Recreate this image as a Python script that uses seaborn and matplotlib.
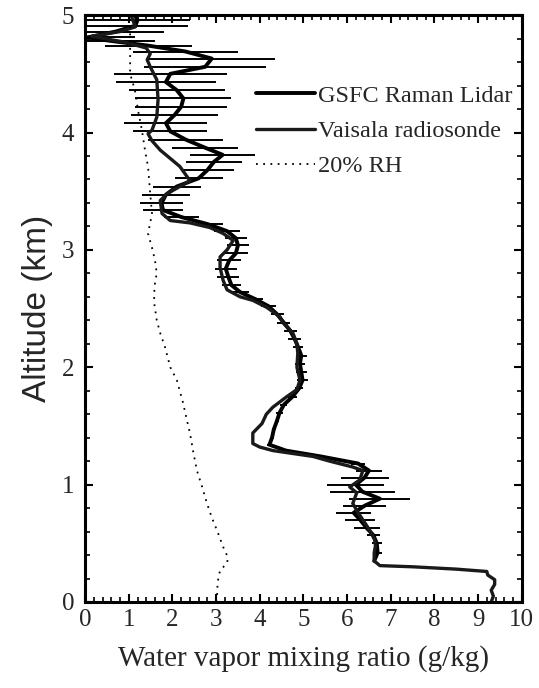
import numpy as np
import pandas as pd
import matplotlib
matplotlib.use('Agg')
import matplotlib.pyplot as plt
import seaborn as sns

sns.set_theme(style='ticks')
plt.rcParams['font.family'] = ['Liberation Serif', 'DejaVu Serif']

# GSFC Raman Lidar profile: altitude (km), mixing ratio (g/kg), error (g/kg)
lidar_alt = [0.35, 0.42, 0.50, 0.57, 0.63, 0.70, 0.76, 0.82, 0.88, 0.94, 1.00, 1.06, 1.12, 1.18,
             1.24, 1.29, 1.34, 1.40, 1.47, 1.54, 1.61, 1.68, 1.75, 1.82, 1.89, 1.96, 2.03, 2.10,
             2.17, 2.24, 2.31, 2.38, 2.45, 2.52, 2.58, 2.64, 2.70, 2.77, 2.84, 2.91, 2.97, 3.04,
             3.10, 3.16, 3.22, 3.28, 3.34, 3.40, 3.47, 3.54, 3.61, 3.68, 3.75, 3.81, 3.87, 3.94,
             4.01, 4.08, 4.15, 4.22, 4.29, 4.36, 4.43, 4.50, 4.56, 4.63, 4.69, 4.74, 4.78, 4.81,
             4.86, 4.91, 4.96, 5.02]
lidar_wv = [6.62, 6.70, 6.68, 6.60, 6.45, 6.30, 6.15, 6.40, 6.75, 6.35, 6.20, 6.40, 6.50, 6.25,
            5.40, 4.60, 4.22, 4.28, 4.32, 4.39, 4.45, 4.55, 4.75, 4.90, 4.98, 4.95, 4.92, 4.95,
            4.88, 4.80, 4.70, 4.55, 4.40, 4.20, 3.90, 3.55, 3.35, 3.28, 3.22, 3.30, 3.45, 3.50,
            3.45, 3.25, 2.80, 2.20, 1.78, 1.75, 1.85, 2.10, 2.60, 2.80, 2.95, 3.15, 2.75, 2.30,
            1.95, 1.85, 2.05, 2.20, 2.25, 2.10, 1.85, 1.95, 2.75, 2.90, 2.30, 1.45, 0.60, 0.05,
            0.70, 1.15, 1.20, 1.10]
lidar_err = [0.00, 0.10, 0.12, 0.15, 0.30, 0.35, 0.40, 0.50, 0.70, 0.75, 0.65, 0.55, 0.30, 0.15,
             0.05, 0.05, 0.05, 0.05, 0.05, 0.05, 0.08, 0.08, 0.10, 0.10, 0.12, 0.12, 0.12, 0.12,
             0.12, 0.15, 0.15, 0.15, 0.15, 0.18, 0.18, 0.20, 0.22, 0.25, 0.25, 0.28, 0.28, 0.25,
             0.25, 0.30, 0.35, 0.40, 0.45, 0.50, 0.55, 0.55, 0.55, 0.60, 0.65, 0.75, 0.75, 0.85,
             0.85, 0.95, 1.00, 1.05, 1.10, 1.10, 1.15, 1.30, 1.40, 1.45, 1.20, 1.00, 1.00, 1.10,
             1.10, 1.20, 1.20, 1.20]

# Vaisala radiosonde profile
sonde_alt = [0.00, 0.05, 0.10, 0.15, 0.19, 0.23, 0.26, 0.28, 0.30, 0.31, 0.35, 0.42, 0.48, 0.53,
             0.61, 0.70, 0.78, 0.84, 0.93, 0.98, 1.04, 1.12, 1.15, 1.20, 1.24, 1.29, 1.32, 1.35,
             1.44, 1.52, 1.60, 1.66, 1.75, 1.81, 1.89, 2.00, 2.12, 2.20, 2.29, 2.38, 2.43, 2.51,
             2.57, 2.60, 2.66, 2.74, 2.85, 2.94, 3.00, 3.08, 3.14, 3.19, 3.23, 3.25, 3.31, 3.42,
             3.48, 3.54, 3.59, 3.71, 3.76, 3.85, 3.93, 3.99, 4.02, 4.13, 4.28, 4.45, 4.56, 4.62,
             4.67, 4.72, 4.77, 4.82, 4.86, 4.90, 4.95, 5.00]
sonde_wv = [9.30, 9.35, 9.30, 9.38, 9.38, 9.22, 9.20, 8.50, 7.50, 6.75, 6.62, 6.62, 6.65, 6.63,
            6.52, 6.36, 6.22, 6.13, 6.22, 6.06, 6.29, 6.36, 6.13, 5.60, 5.22, 4.30, 4.00, 3.84,
            3.84, 4.05, 4.15, 4.30, 4.62, 4.85, 4.92, 4.85, 4.87, 4.85, 4.76, 4.53, 4.46, 4.16,
            3.84, 3.55, 3.25, 3.16, 3.09, 3.09, 3.25, 3.39, 3.16, 2.86, 2.40, 1.95, 1.76, 1.72,
            1.88, 2.17, 2.40, 2.17, 2.01, 1.72, 1.53, 1.44, 1.53, 1.64, 1.67, 1.64, 1.49, 1.42,
            1.49, 1.40, 0.90, 0.15, 0.80, 1.15, 1.10, 1.05]

# 20% relative humidity reference
rh_alt = [0.00, 0.09, 0.16, 0.27, 0.33, 0.38, 0.47, 0.61, 0.72, 0.84, 0.98, 1.12, 1.29, 1.44,
          1.55, 1.70, 1.89, 2.00, 2.17, 2.29, 2.40, 2.55, 2.63, 2.72, 2.80, 2.91, 3.02, 3.14,
          3.23, 3.31, 3.48, 3.71, 3.85, 4.02, 4.19, 4.36, 4.50, 4.67, 4.85, 5.00]
rh_wv = [3.00, 3.03, 3.03, 3.09, 3.25, 3.27, 3.16, 3.02, 2.90, 2.79, 2.68, 2.56, 2.47, 2.40,
         2.33, 2.24, 2.10, 1.95, 1.83, 1.72, 1.64, 1.58, 1.58, 1.60, 1.64, 1.60, 1.53, 1.44,
         1.49, 1.53, 1.49, 1.44, 1.37, 1.30, 1.21, 1.14, 1.03, 1.03, 1.03, 1.03]

lidar = pd.DataFrame({'alt': lidar_alt, 'wv': lidar_wv, 'err': lidar_err})
sonde = pd.DataFrame({'alt': sonde_alt, 'wv': sonde_wv})
rh = pd.DataFrame({'alt': rh_alt, 'wv': rh_wv})

fig = plt.figure(figsize=(5.39, 6.88), dpi=100)
ax = fig.add_axes([0.158, 0.125, 0.81, 0.853])

ax.errorbar(lidar['wv'], lidar['alt'], xerr=lidar['err'], fmt='none',
            ecolor='black', elinewidth=1.4, capsize=0)
sns.lineplot(data=lidar, x='wv', y='alt', orient='y', color='black', lw=2.8,
             label='GSFC Raman Lidar', ax=ax)
sns.lineplot(data=sonde, x='wv', y='alt', orient='y', color='#1a1a1a', lw=2.4,
             label='Vaisala radiosonde', ax=ax)
sns.lineplot(data=rh, x='wv', y='alt', orient='y', color='black', lw=1.3,
             linestyle=(0, (1, 3)), label='20% RH', ax=ax)

ax.set_xlim(0, 10)
ax.set_ylim(0, 5)
ax.set_xticks(np.arange(0, 11, 1))
ax.set_yticks(np.arange(0, 6, 1))
ax.set_xticks(np.arange(0, 10.01, 0.2), minor=True)
ax.set_yticks(np.arange(0, 5.01, 0.2), minor=True)
ax.tick_params(which='both', direction='in', top=True, right=True, color='black', labelsize=18)
ax.tick_params(which='major', length=6, width=1.5)
ax.tick_params(which='minor', length=3.5, width=1.2)
ax.tick_params(axis='x', pad=5)
ax.tick_params(axis='y', pad=8)
for s in ax.spines.values():
    s.set_linewidth(2.2)
    s.set_color('black')

ax.set_xlabel('Water vapor mixing ratio (g/kg)', fontsize=21, labelpad=10)
ax.set_ylabel('Altitude (km)', fontsize=24, family=['Liberation Sans', 'DejaVu Sans'], labelpad=6)

ax.legend(loc='upper left', bbox_to_anchor=(0.37, 0.898), frameon=False, fontsize=17.5,
          handlelength=2.4, handletextpad=0.12, labelspacing=0.55, borderaxespad=0)

fig.savefig('out.png', dpi=100)
